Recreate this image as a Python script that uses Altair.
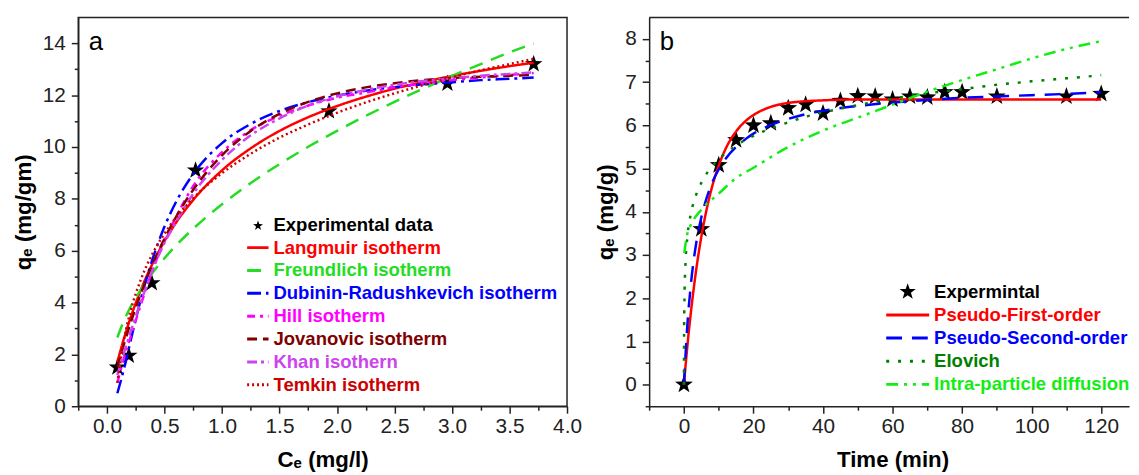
import altair as alt
import pandas as pd

FONT = "Liberation Sans"
STAR = ("M0,-1L0.235,-0.324L0.951,-0.309L0.38,0.124L0.588,0.809L0,0.4"
        "L-0.588,0.809L-0.38,0.124L-0.951,-0.309L-0.235,-0.324Z")

# ---------------- panel a data (isotherms) ----------------
ce_exp = [0.09, 0.19, 0.39, 0.77, 1.93, 2.96, 3.71]
qe_exp = [1.5, 1.95, 4.75, 9.1, 11.38, 12.45, 13.2]

ce_fit = [0.09, 0.15, 0.2, 0.3, 0.4, 0.5, 0.6, 0.75, 1.0, 1.25, 1.5, 1.75,
          2.0, 2.25, 2.5, 2.75, 3.0, 3.25, 3.5, 3.71]
langmuir_q = [1.71, 2.65, 3.35, 4.55, 5.54, 6.37, 7.08, 7.96, 9.10, 9.95, 10.62,
              11.15, 11.58, 11.94, 12.25, 12.51, 12.74, 12.94, 13.12, 13.25]
freundlich_q = [2.65, 3.33, 3.79, 4.54, 5.17, 5.71, 6.20, 6.85, 7.79, 8.61, 9.34,
                10.01, 10.62, 11.20, 11.74, 12.25, 12.74, 13.20, 13.65, 14.0]
dr_q = [0.5, 1.48, 2.42, 4.23, 5.73, 6.93, 7.88, 8.96, 10.15, 10.89, 11.39,
        11.73, 11.98, 12.17, 12.31, 12.42, 12.50, 12.58, 12.63, 12.68]
hill_q = [0.9, 1.9, 2.6, 4.0, 5.3, 6.4, 7.3, 8.5, 9.8, 10.65, 11.2, 11.6, 11.9,
          12.1, 12.3, 12.45, 12.58, 12.68, 12.78, 12.85]
jovanovic_q = [1.52, 2.43, 3.14, 4.41, 5.51, 6.47, 7.30, 8.35, 9.68, 10.62, 11.28,
               11.74, 12.07, 12.30, 12.46, 12.58, 12.66, 12.71, 12.75, 12.78]
khan_q = [1.2, 2.1, 2.8, 4.1, 5.3, 6.3, 7.1, 8.2, 9.5, 10.45, 11.1, 11.6, 11.95,
          12.2, 12.4, 12.55, 12.65, 12.75, 12.82, 12.88]
temkin_q = [0.90, 2.62, 3.59, 4.95, 5.92, 6.66, 7.28, 8.03, 8.99, 9.74, 10.36,
            10.87, 11.32, 11.72, 12.07, 12.39, 12.69, 12.96, 13.20, 13.40]

legend_a = ["Experimental data", "Langmuir isotherm", "Freundlich isotherm",
            "Dubinin-Radushkevich isotherm", "Hill isotherm", "Jovanovic isotherm",
            "Khan isothern", "Temkin isotherm"]

xa_ticks = [-0.25, 0.0, 0.25, 0.5, 0.75, 1.0, 1.25, 1.5, 1.75, 2.0, 2.25, 2.5,
            2.75, 3.0, 3.25, 3.5, 3.75, 4.0]
ya_ticks = [0, 1, 2, 3, 4, 5, 6, 7, 8, 9, 10, 11, 12, 13, 14]

# ---------------- panel b data (kinetics) ----------------
t_exp = [0, 5, 10, 15, 20, 25, 30, 35, 40, 45, 50, 55, 60, 65, 70, 75, 80, 90, 110, 120]
q_exp = [0, 3.6, 5.08, 5.66, 6.0, 6.05, 6.4, 6.48, 6.28, 6.57, 6.68, 6.67, 6.6,
         6.67, 6.65, 6.77, 6.77, 6.67, 6.67, 6.73]

t_fit = [0, 1, 2, 3, 4, 5, 6, 8, 10, 12, 15, 18, 20, 25, 30, 35, 40, 50, 60, 70,
         80, 90, 100, 110, 120]
pfo_q = [0, 0.90, 1.67, 2.34, 2.92, 3.42, 3.85, 4.55, 5.07, 5.46, 5.86, 6.12, 6.24,
         6.43, 6.52, 6.56, 6.58, 6.60, 6.60, 6.60, 6.60, 6.60, 6.60, 6.60, 6.60]
pso_q = [0, 1.39, 2.32, 2.99, 3.49, 3.87, 4.18, 4.65, 4.98, 5.23, 5.50, 5.70, 5.81,
         6.01, 6.15, 6.26, 6.34, 6.45, 6.53, 6.59, 6.64, 6.67, 6.70, 6.73, 6.77]
t_elovich = [0, 0.05, 0.1, 0.2, 0.5, 1, 2, 3, 4, 5, 6, 8, 10, 12, 15, 18, 20, 25,
             30, 35, 40, 50, 60, 70, 80, 90, 100, 110, 120]
elovich_q = [0, 1.24, 1.70, 2.20, 2.89, 3.42, 3.96, 4.27, 4.50, 4.67, 4.82, 5.04,
             5.22, 5.36, 5.53, 5.68, 5.76, 5.93, 6.07, 6.20, 6.30, 6.47, 6.62, 6.74,
             6.84, 6.94, 7.02, 7.09, 7.16]
t_ipd = [0.1, 1, 2, 5, 10, 15, 20, 30, 40, 50, 60, 70, 80, 90, 100, 110, 120]
ipd_q = [3.05, 3.5, 3.7, 4.05, 4.42, 4.78, 5.02, 5.5, 5.88, 6.18, 6.48, 6.78,
         7.05, 7.3, 7.55, 7.77, 7.95]

legend_b = ["Expermintal", "Pseudo-First-order", "Pseudo-Second-order", "Elovich",
            "Intra-particle diffusion"]

xb_ticks = [-10, 0, 10, 20, 30, 40, 50, 60, 70, 80, 90, 100, 110, 120]
yb_ticks = [-0.5, 0, 0.5, 1, 1.5, 2, 2.5, 3, 3.5, 4, 4.5, 5, 5.5, 6, 6.5, 7, 7.5, 8]

# ---------------- styles ----------------
A_W, B_W, H = 494, 485, 393
LW = 2.5
LEG_FS = 18.7
TITLE_FS = 22.5
styles_a = [
    ("#FF0000", [1, 0]),
    ("#22DD22", [14, 9]),
    ("#0000FF", [14, 5, 3, 5]),
    ("#FF00FF", [8, 5, 3, 5]),
    ("#800000", [10, 6]),
    ("#CC44EE", [10, 4, 3, 4]),
    ("#CC0000", [2, 3]),
]
series_a = [langmuir_q, freundlich_q, dr_q, hill_q, jovanovic_q, khan_q, temkin_q]

styles_b = [
    ("#FF0000", [1, 0]),
    ("#0000FF", [16, 10]),
    ("#008000", [3, 9]),
    ("#11EE11", [12, 6, 3, 6, 3, 6]),
]

MAJ_A_X = "abs(datum.value*2-round(datum.value*2))<0.01"
MAJ_A_Y = "datum.value % 2 == 0"
MAJ_B_X = "datum.value % 20 == 0"
MAJ_B_Y = "abs(datum.value-round(datum.value))<0.01"

AX = dict(grid=False, domainColor="#222222", domainWidth=1.5, tickColor="#222222",
          tickWidth=1.5, labelFont=FONT, labelFontSize=21, labelColor="#222222",
          titleFont=FONT, titleFontSize=TITLE_FS, titleFontWeight="bold",
          titleColor="#000000", labelFlush=False, labelOverlap=False)


def tick_size(test):
    return {"condition": {"test": test, "value": 7}, "value": 4}


xa_axis = alt.Axis(values=xa_ticks, title="Cₑ (mg/l)", tickSize=tick_size(MAJ_A_X),
                   labelExpr=MAJ_A_X + " ? format(datum.value, '.1f') : ''",
                   labelPadding=3, titlePadding=12, **AX)
ya_axis = alt.Axis(values=ya_ticks, title="qₑ (mg/gm)", tickSize=tick_size(MAJ_A_Y),
                   labelExpr=MAJ_A_Y + " ? format(datum.value, 'd') : ''",
                   labelPadding=6, titlePadding=7, **AX)
xb_axis = alt.Axis(values=xb_ticks, title="Time (min)", tickSize=tick_size(MAJ_B_X),
                   labelExpr=MAJ_B_X + " ? format(datum.value, 'd') : ''",
                   labelPadding=3, titlePadding=12, titleX=246, **AX)
yb_axis = alt.Axis(values=yb_ticks, title="qₑ (mg/g)", tickSize=tick_size(MAJ_B_Y),
                   labelExpr=MAJ_B_Y + " ? format(datum.value, 'd') : ''",
                   labelPadding=6, titlePadding=7, **AX)

xa_scale = alt.Scale(domain=[-0.25, 4.0], nice=False, zero=False)
ya_scale = alt.Scale(domain=[0, 15], nice=False, zero=False)
xb_scale = alt.Scale(domain=[-10, 128], nice=False, zero=False)
yb_scale = alt.Scale(domain=[-0.5, 8.5], nice=False, zero=False)


def one(**kw):
    return pd.DataFrame({k: [v] for k, v in kw.items()})


# ---------------- panel a ----------------
layers_a = []
df_exp_a = pd.DataFrame({"x": ce_exp, "y": qe_exp})
layers_a.append(
    alt.Chart(df_exp_a).mark_point(shape=STAR, filled=True, color="black", size=340, opacity=1)
    .encode(x=alt.X("x:Q", scale=xa_scale, axis=xa_axis),
            y=alt.Y("y:Q", scale=ya_scale, axis=ya_axis))
)
for (col, dash), vals in zip(styles_a, series_a):
    df = pd.DataFrame({"x": ce_fit, "y": vals})
    layers_a.append(
        alt.Chart(df).mark_line(color=col, strokeDash=dash, strokeWidth=LW,
                                interpolate="monotone", clip=True)
        .encode(x=alt.X("x:Q", scale=xa_scale, axis=xa_axis),
                y=alt.Y("y:Q", scale=ya_scale, axis=ya_axis))
    )

# legend a
y0, dy = 209.6, 23.1
leg_colors_a = ["#000000"] + [s[0] for s in styles_a]
layers_a.append(
    alt.Chart(one(k=0)).mark_point(shape=STAR, filled=True, color="black", size=110, opacity=1)
    .encode(x=alt.value(181.7), y=alt.value(y0 + 1))
)
for i, (col, dash) in enumerate(styles_a, start=1):
    layers_a.append(
        alt.Chart(one(k=i)).mark_rule(color=col, strokeDash=dash, strokeWidth=LW + 0.5)
        .encode(x=alt.value(170.7), x2=alt.value(192.3), y=alt.value(y0 + i * dy))
    )
for i, (lab, col) in enumerate(zip(legend_a, leg_colors_a)):
    layers_a.append(
        alt.Chart(one(t=lab)).mark_text(align="left", baseline="middle", font=FONT,
                                        fontSize=LEG_FS, fontWeight="bold", color=col)
        .encode(x=alt.value(197.3), y=alt.value(y0 + i * dy), text="t:N")
    )
layers_a.append(
    alt.Chart(one(t="a")).mark_text(align="left", baseline="alphabetic", font=FONT,
                                    fontSize=26, color="black")
    .encode(x=alt.value(10.7), y=alt.value(33), text="t:N")
)
panel_a = alt.layer(*layers_a).properties(
    width=A_W, height=H, view=alt.ViewBackground(stroke="#222222", strokeWidth=1.5))

# ---------------- panel b ----------------
layers_b = []
df_exp_b = pd.DataFrame({"x": t_exp, "y": q_exp})
layers_b.append(
    alt.Chart(df_exp_b).mark_point(shape=STAR, filled=True, color="black", size=360, opacity=1)
    .encode(x=alt.X("x:Q", scale=xb_scale, axis=xb_axis),
            y=alt.Y("y:Q", scale=yb_scale, axis=yb_axis))
)
series_b = [(t_fit, pfo_q), (t_fit, pso_q), (t_elovich, elovich_q), (t_ipd, ipd_q)]
for (col, dash), (tx, vals) in zip(styles_b, series_b):
    df = pd.DataFrame({"x": tx, "y": vals})
    layers_b.append(
        alt.Chart(df).mark_line(color=col, strokeDash=dash, strokeWidth=LW,
                                interpolate="monotone", clip=True)
        .encode(x=alt.X("x:Q", scale=xb_scale, axis=xb_axis),
                y=alt.Y("y:Q", scale=yb_scale, axis=yb_axis))
    )
# top frame line
layers_b.append(
    alt.Chart(one(k=0)).mark_rule(color="#222222", strokeWidth=1.5)
    .encode(x=alt.value(0), x2=alt.value(B_W), y=alt.value(0))
)
# legend b
y0b, dyb = 277.3, 23.4
leg_colors_b = ["#000000"] + [s[0] for s in styles_b]
layers_b.append(
    alt.Chart(one(k=0)).mark_point(shape=STAR, filled=True, color="black", size=300, opacity=1)
    .encode(x=alt.value(261.3), y=alt.value(y0b))
)
for i, (col, dash) in enumerate(styles_b, start=1):
    layers_b.append(
        alt.Chart(one(k=i)).mark_rule(color=col, strokeDash=dash, strokeWidth=LW + 0.5)
        .encode(x=alt.value(239.6), x2=alt.value(283), y=alt.value(y0b + i * dyb))
    )
for i, (lab, col) in enumerate(zip(legend_b, leg_colors_b)):
    layers_b.append(
        alt.Chart(one(t=lab)).mark_text(align="left", baseline="middle", font=FONT,
                                        fontSize=LEG_FS, fontWeight="bold", color=col)
        .encode(x=alt.value(288), y=alt.value(y0b + i * dyb), text="t:N")
    )
layers_b.append(
    alt.Chart(one(t="b")).mark_text(align="left", baseline="alphabetic", font=FONT,
                                    fontSize=26, color="black")
    .encode(x=alt.value(10.6), y=alt.value(33.3), text="t:N")
)
panel_b = alt.layer(*layers_b).properties(width=B_W, height=H)

chart = (
    alt.hconcat(panel_a, panel_b, spacing=83, bounds="flush")
    .properties(padding={"left": 3, "top": 5, "right": 0, "bottom": 0},
                background="white")
    .configure_view(stroke="transparent")
)

chart.save("out.html", embed_options={"renderer": "svg", "actions": False})
